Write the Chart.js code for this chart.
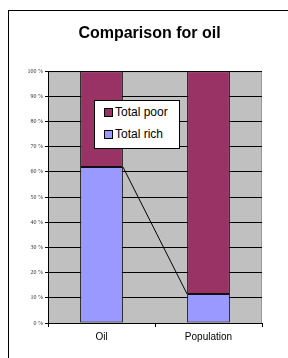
<!DOCTYPE html>
<html>
<head>
<meta charset="utf-8">
<script src="https://cdn.jsdelivr.net/npm/chart.js@4/dist/chart.umd.min.js"></script>
<style>
  body { margin: 0; background: #fff; }
  #frame { position: absolute; left: 8px; top: 10px; width: 300px; height: 400px; border: 1px solid #000; }
  #wrap { position: absolute; left: 0; top: 0; width: 288px; height: 358px; }
  #legend {
    position: absolute; left: 94px; top: 100px; width: 84px; height: 47px;
    background: #fff; border: 1px solid #000; font: 12px "Liberation Sans", Arial, sans-serif;
  }
  #legend div { position: absolute; left: 9px; height: 14px; line-height: 14px; white-space: nowrap; }
  #legend span { display: inline-block; width: 7px; height: 7px; border: 1px solid #000; margin-right: 2px; vertical-align: -1px; }
</style>
</head>
<body>
<div id="frame"></div>
<div id="wrap"><canvas id="oilChart" width="288" height="358"></canvas></div>
<div id="legend"></div>
<script>
// chart data
const categories = ['Oil', 'Population'];
const richValues = [62, 11.5];
const poorValues = [38, 88.5];
const seriesNames = ['Total rich', 'Total poor'];
const seriesColors = ['#9999FF', '#993366'];

// grey plot area
const plotBg = {
    id: 'plotBg',
    beforeDraw(chart) {
        const a = chart.chartArea;
        const c = chart.ctx;
        c.save();
        c.fillStyle = '#C0C0C0';
        c.fillRect(a.left, a.top, a.right - a.left, a.bottom - a.top);
        c.strokeStyle = '#999';
        c.strokeRect(a.left + 0.5, a.top + 0.5, a.right - a.left - 1, a.bottom - a.top);
        c.restore();
    }
};

// excel style series line between the bottom segments
const seriesLine = {
    id: 'seriesLine',
    afterDatasetsDraw(chart) {
        const bars = chart.getDatasetMeta(0).data;
        const c = chart.ctx;
        c.save();
        c.strokeStyle = '#000';
        c.lineWidth = 1;
        c.beginPath();
        for (let i = 0; i < bars.length - 1; i++) {
            const a = bars[i], b = bars[i + 1];
            c.moveTo(a.x + a.width / 2, a.y);
            c.lineTo(b.x - b.width / 2, b.y);
        }
        c.stroke();
        c.restore();
    }
};

const ctx = document.getElementById('oilChart').getContext('2d');
const oilChart = new Chart(ctx, {
    type: 'bar',
    data: {
        labels: categories,
        datasets: [
            { label: seriesNames[0], data: richValues, backgroundColor: seriesColors[0], borderColor: '#111', borderWidth: 1, borderSkipped: false },
            { label: seriesNames[1], data: poorValues, backgroundColor: seriesColors[1], borderColor: '#111', borderWidth: 1, borderSkipped: false }
        ]
    },
    options: {
        responsive: false,
        animation: false,
        layout: { padding: { left: 11, right: 0, top: 0, bottom: 0 } },
        datasets: { bar: { categoryPercentage: 1, barPercentage: 0.4 } },
        plugins: {
            legend: { display: false },
            tooltip: { enabled: false },
            title: {
                display: true,
                text: 'Comparison for oil',
                color: '#000',
                font: { family: '"Liberation Sans", Arial, sans-serif', size: 16, weight: 'bold' },
                padding: { top: 24, bottom: 28 }
            }
        },
        scales: {
            x: {
                stacked: true,
                grid: { offset: true, drawOnChartArea: false, drawTicks: true, tickLength: 4, color: '#000' },
                border: { color: '#000', width: 1 },
                ticks: { color: '#000', padding: 4, font: { family: '"Liberation Sans", Arial, sans-serif', size: 10 } },
                afterFit(scale) { scale.height = 35; }
            },
            y: {
                stacked: true,
                min: 0,
                max: 100,
                grid: { color: '#000', tickLength: 3 },
                border: { color: '#000', width: 1 },
                ticks: {
                    stepSize: 10,
                    padding: 2,
                    color: '#333',
                    font: { family: '"Liberation Serif", serif', size: 6 },
                    callback: v => v + ' %'
                },
                afterFit(scale) { scale.width = 37; }
            },
            // empty right margin so the title centres like the original
            spacer: {
                position: 'right',
                grid: { display: false },
                border: { display: false },
                ticks: { display: false },
                afterFit(scale) { scale.width = 26; }
            }
        }
    },
    plugins: [plotBg, seriesLine]
});

// legend box, listed top series first
const legendBox = document.getElementById('legend');
oilChart.data.datasets.slice().reverse().forEach((ds, i) => {
    const item = document.createElement('div');
    item.style.top = (4 + i * 22) + 'px';
    item.innerHTML = '<span style="background:' + ds.backgroundColor + '"></span>' + ds.label;
    legendBox.appendChild(item);
});
</script>
</body>
</html>
